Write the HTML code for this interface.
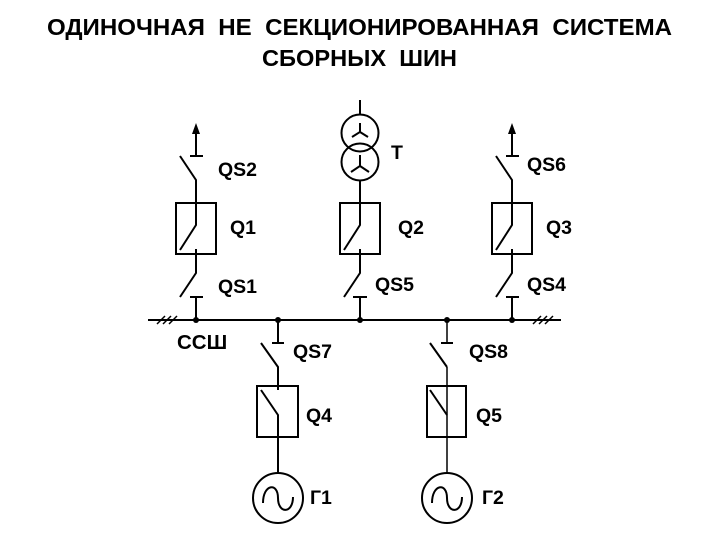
<!DOCTYPE html>
<html><head><meta charset="utf-8">
<style>html,body{margin:0;padding:0;background:#fff;width:720px;height:540px;overflow:hidden}svg{display:block}text{font-family:"Liberation Sans",sans-serif;font-weight:bold;fill:#000}</style>
</head><body>
<svg width="720" height="540" viewBox="0 0 720 540" xmlns="http://www.w3.org/2000/svg">
<text x="359.500" y="35" font-size="23.500" text-anchor="middle" xml:space="preserve" textLength="625" lengthAdjust="spacingAndGlyphs">ОДИНОЧНАЯ  НЕ  СЕКЦИОНИРОВАННАЯ  СИСТЕМА</text>
<text x="359.500" y="66" font-size="23.500" text-anchor="middle" xml:space="preserve" textLength="195" lengthAdjust="spacingAndGlyphs">СБОРНЫХ  ШИН</text>
<g fill="none" stroke="#000" stroke-width="2">
<path d="M148 320H561"/>
<path d="M157 324l8-8M163 324l8-8M169 324l8-8M533 324l8-8M539 324l8-8M545 324l8-8" stroke-width="1.500"/>
<!-- left column -->
<path d="M196 132V156M190 156H203M180 156L196 180V225L180 250M176 203H216V254H176ZM196 249V273L180 297M190 297H203M196 297V320"/>
<!-- middle column -->
<circle cx="360" cy="133" r="18.500"/><circle cx="360" cy="162" r="18.500"/>
<path d="M360 100V114M360 181V225L344 250M340 203H380V254H340ZM360 249V273L344 297M353 297H367M360 297V320"/>
<path d="M360 123V132L352 137M360 132L368 137M360 155V166L351 172M360 166L369 172"/>
<!-- right column -->
<path d="M512 132V156M506 156H519M496 156L512 180V225L496 250M492 203H532V254H492ZM512 249V273L496 297M506 297H519M512 297V320"/>
<!-- Q4 column -->
<path d="M278 320V343M272 343H284M261 343L278 367V390M257 386H298V437H257ZM261 390L278 415V473"/>
<circle cx="278" cy="498" r="25"/>
<path d="M263 503C263 484 278 482 278 498C278 514 293 514 293 497"/>
<!-- Q5 column -->
<path d="M447 320V343M447 367V473" stroke-width="1.500"/>
<path d="M441 343H453M430 343L447 367M427 386H466V437H427ZM430 390L447 415"/>
<circle cx="447" cy="498" r="25"/>
<path d="M432 503C432 484 447 482 447 498C447 514 462 514 462 497"/>
</g>
<path d="M196 123L192 134H200ZM512 123L508 134H516Z" fill="#000"/>
<g fill="#000"><circle cx="196" cy="320" r="3"/><circle cx="278" cy="320" r="3"/><circle cx="360" cy="320" r="3"/><circle cx="447" cy="320" r="3"/><circle cx="512" cy="320" r="3"/></g>
<g font-size="19.500">
<text x="218" y="176">QS2</text>
<text x="230" y="234">Q1</text>
<text x="218" y="293">QS1</text>
<text x="391" y="159">T</text>
<text x="398" y="234">Q2</text>
<text x="375" y="291">QS5</text>
<text x="527" y="171">QS6</text>
<text x="546" y="234">Q3</text>
<text x="527" y="291">QS4</text>
<text x="177" y="349" font-size="20.500">ССШ</text>
<text x="293" y="358">QS7</text>
<text x="469" y="358">QS8</text>
<text x="306" y="422">Q4</text>
<text x="476" y="422">Q5</text>
<text x="310" y="504">Г1</text>
<text x="482" y="504">Г2</text>
</g>
</svg>
</body></html>
